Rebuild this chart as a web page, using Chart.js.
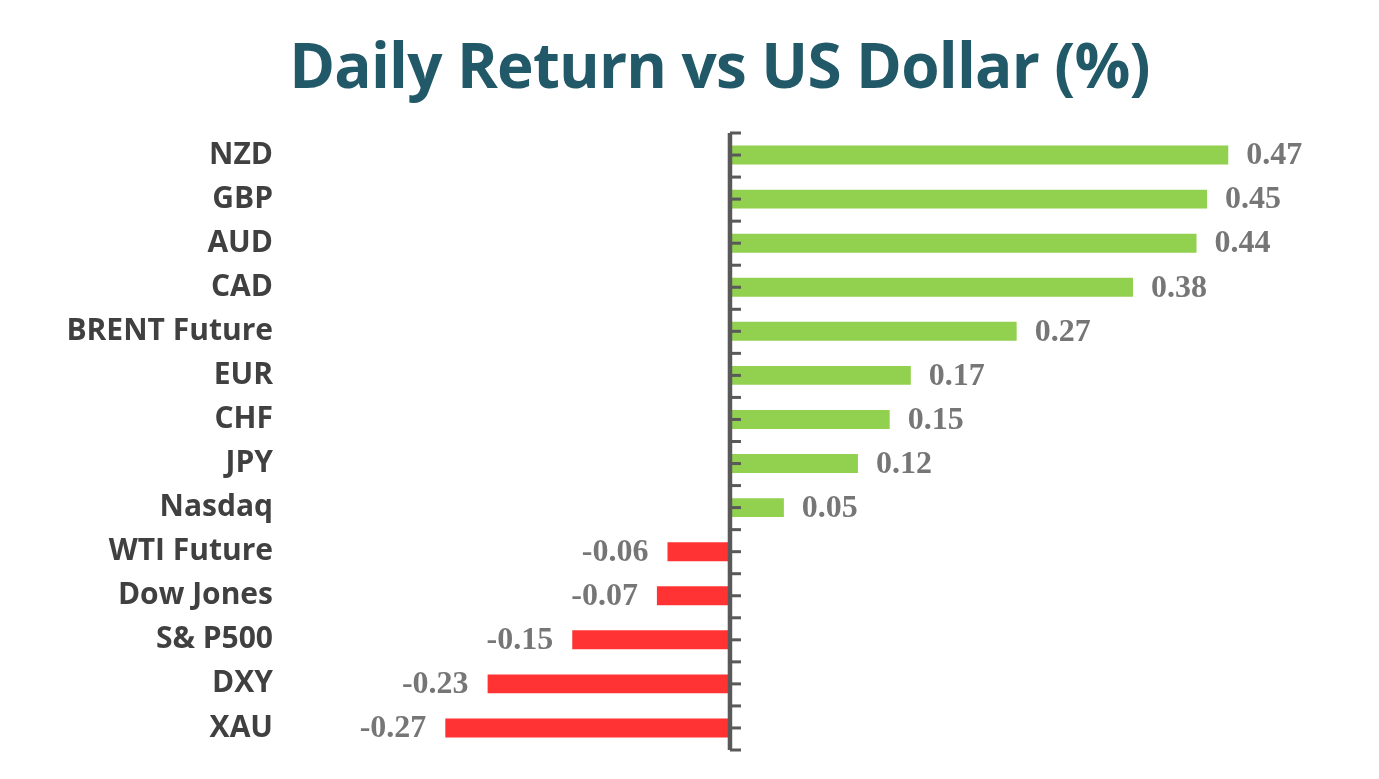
<!DOCTYPE html>
<html>
<head>
<meta charset="utf-8">
<script src="https://cdn.jsdelivr.net/npm/chart.js@4.4.1/dist/chart.umd.min.js"></script>
<style>
  html, body { margin: 0; padding: 0; background: #ffffff; }
  #wrap { position: relative; width: 1379px; height: 779px; }
  #title { position: absolute; left: 60px; top: 22px; width: 1319px; text-align: center;
           font-family: "Open Sans", sans-serif; font-weight: 700; font-size: 62px; color: #215968;
           letter-spacing: -0.8px; line-height: 84px; }
  canvas { position: absolute; left: 0; top: 0; }
</style>
</head>
<body>
<div id="wrap">
  <canvas id="c" width="1379" height="779"></canvas>
  <div id="title">Daily Return vs US Dollar (%)</div>
</div>
<script>
const categories = ["NZD", "GBP", "AUD", "CAD", "BRENT Future", "EUR", "CHF", "JPY", "Nasdaq",
                    "WTI Future", "Dow Jones", "S& P500", "DXY", "XAU"];
const returns = [0.47, 0.45, 0.44, 0.38, 0.27, 0.17, 0.15, 0.12, 0.05,
                 -0.06, -0.07, -0.15, -0.23, -0.27];
const positiveColor = "#92D050";
const negativeColor = "#FF3333";

const labelPlugin = {
  id: "valueLabels",
  afterDatasetsDraw(chart) {
    const ctx = chart.ctx;
    const meta = chart.getDatasetMeta(0);
    ctx.save();
    ctx.font = "bold 32px 'Liberation Serif', serif";
    ctx.fillStyle = "#767676";
    ctx.textBaseline = "middle";
    meta.data.forEach((bar, i) => {
      const v = returns[i];
      const txt = v.toFixed(2);
      if (v >= 0) {
        ctx.textAlign = "left";
        ctx.fillText(txt, bar.x + 18, bar.y + 1);
      } else {
        ctx.textAlign = "right";
        ctx.fillText(txt, bar.x - 19, bar.y + 1);
      }
    });
    ctx.restore();
  }
};

const axisPlugin = {
  id: "zeroAxis",
  afterDatasetsDraw(chart) {
    const ctx = chart.ctx;
    const xs = chart.scales.x;
    const ys = chart.scales.y;
    const x0 = xs.getPixelForValue(0);
    const n = categories.length;
    const half = (ys.getPixelForValue(1) - ys.getPixelForValue(0)) / 2;
    const top = ys.getPixelForValue(0) - half;
    const bottom = ys.getPixelForValue(n - 1) + half;
    ctx.save();
    ctx.strokeStyle = "#595959";
    ctx.lineWidth = 4.5;
    ctx.beginPath();
    ctx.moveTo(x0 - 1, top);
    ctx.lineTo(x0 - 1, bottom);
    ctx.stroke();
    ctx.lineWidth = 3;
    for (let k = 0; k <= 2 * n; k++) {
      const y = top + k * half;
      ctx.beginPath();
      ctx.moveTo(x0 - 1, y);
      ctx.lineTo(x0 + 10, y);
      ctx.stroke();
    }
    ctx.restore();
  }
};

new Chart(document.getElementById("c"), {
  type: "bar",
  data: {
    labels: categories,
    datasets: [{
      data: returns,
      backgroundColor: returns.map(v => v >= 0 ? positiveColor : negativeColor),
      borderWidth: 0,
      categoryPercentage: 1.0,
      barPercentage: 0.43
    }]
  },
  options: {
    indexAxis: "y",
    responsive: false,
    animation: false,
    devicePixelRatio: 1,
    layout: { padding: { top: 133, bottom: 29, left: 0, right: 119 } },
    plugins: {
      legend: { display: false },
      tooltip: { enabled: false },
      title: { display: false }
    },
    scales: {
      x: {
        min: -0.43,
        max: 0.5,
        display: false
      },
      y: {
        grid: { display: false, drawTicks: false },
        border: { display: false },
        ticks: {
          color: "#404040",
          padding: 3,
          font: { family: "'Open Sans', sans-serif", weight: "bold", size: 30 }
        },
        afterFit(scale) { scale.width = 276; }
      }
    }
  },
  plugins: [labelPlugin, axisPlugin]
});
</script>
</body>
</html>
